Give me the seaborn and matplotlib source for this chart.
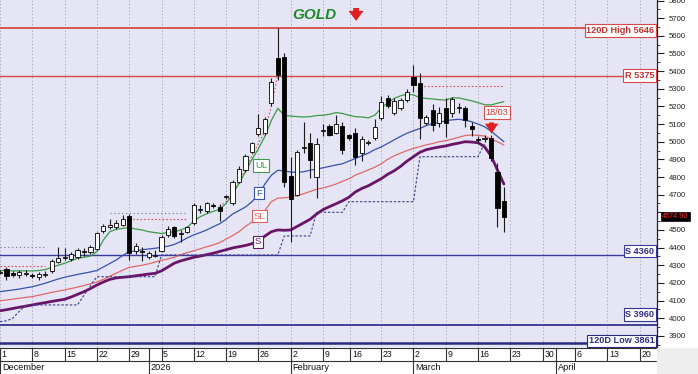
import numpy as np
import pandas as pd
import matplotlib
matplotlib.use("Agg")
import matplotlib.pyplot as plt
import seaborn as sns
from matplotlib.ticker import MultipleLocator, FuncFormatter
from matplotlib.transforms import blended_transform_factory
from matplotlib.patches import Rectangle

sns.set_theme(style="white")
plt.rcParams["font.family"] = ["Liberation Sans", "DejaVu Sans"]

# ---------------- data (trading-day index 0 = 1 Dec 2025) ----------------
opens = [4258, 4281, 4252, 4246, 4252, 4242, 4232, 4247, 4270, 4320,
         4345, 4338, 4345, 4377, 4375, 4390, 4492, 4515, 4517, 4530,
         4578, 4382, 4378, 4346, 4355, 4382, 4470, 4515, 4478, 4490,
         4540, 4615, 4605, 4640, 4630, 4685, 4650, 4773, 4840, 4943,
         5045, 5050, 5220, 5472, 5482, 4805, 4698, 4965, 4994, 4802,
         5062, 5089, 5051, 5089, 5038, 5051, 4934, 4992, 5019, 5133,
         5250, 5164, 5190, 5236, 5365, 5335, 5108, 5180, 5104, 5189,
         5161, 5193, 5189, 5088, 5012, 5018, 5019, 4830, 4666]
highs = [4272, 4292, 4270, 4275, 4272, 4258, 4262, 4268, 4335, 4402,
         4395, 4375, 4400, 4398, 4415, 4488, 4535, 4562, 4555, 4585,
         4592, 4425, 4402, 4378, 4385, 4470, 4520, 4525, 4500, 4525,
         4650, 4640, 4660, 4655, 4645, 4700, 4785, 4860, 4930, 5000,
         5155, 5140, 5360, 5646, 5504, 4915, 4955, 5110, 5051, 5019,
         5100, 5100, 5150, 5110, 5045, 5075, 5035, 5010, 5130, 5260,
         5265, 5245, 5250, 5300, 5435, 5390, 5150, 5215, 5195, 5250,
         5255, 5220, 5200, 5110, 5035, 5040, 5040, 4877, 4745]
lows = [4248, 4218, 4232, 4228, 4238, 4228, 4215, 4235, 4255, 4312,
        4330, 4325, 4335, 4355, 4362, 4385, 4485, 4505, 4508, 4522,
        4330, 4365, 4322, 4336, 4345, 4375, 4460, 4455, 4430, 4480,
        4530, 4598, 4595, 4625, 4548, 4678, 4640, 4765, 4830, 4935,
        5035, 5040, 5200, 5350, 4745, 4433, 4690, 4935, 4793, 4679,
        5030, 5030, 5045, 4930, 5010, 4870, 4890, 4980, 5010, 5125,
        5190, 5150, 5180, 5225, 5283, 5015, 5095, 5060, 5085, 5028,
        5140, 5160, 5085, 5035, 4990, 5000, 4890, 4518, 4490]
closes = [4262, 4240, 4249, 4260, 4253, 4240, 4250, 4249, 4325, 4343,
          4348, 4362, 4388, 4374, 4402, 4482, 4522, 4526, 4542, 4564,
          4372, 4410, 4376, 4370, 4360, 4460, 4505, 4468, 4482, 4515,
          4640, 4620, 4650, 4637, 4605, 4690, 4772, 4848, 4920, 4990,
          5080, 5130, 5340, 5378, 4773, 4675, 4943, 4970, 4896, 4987,
          5068, 5040, 5100, 4953, 5022, 4915, 5013, 4996, 5085, 5227,
          5200, 5232, 5236, 5280, 5321, 5133, 5138, 5095, 5165, 5104,
          5243, 5197, 5123, 5072, 5008, 5021, 4906, 4623, 4575]

ul_line = [4270, 4270, 4268, 4268, 4268, 4268, 4270, 4275, 4288, 4300,
           4311, 4325, 4339, 4345, 4352, 4377, 4443, 4490, 4504, 4509,
           4513, 4505, 4500, 4490, 4485, 4480, 4485, 4490, 4500, 4515,
           4550, 4575, 4592, 4605, 4617, 4650, 4700, 4764, 4830, 4900,
           4960, 5030, 5120, 5189, 5150, 5145, 5142, 5140, 5142, 5148,
           5150, 5155, 5165, 5160, 5150, 5142, 5140, 5135, 5150, 5190,
           5220, 5245, 5260, 5270, 5265, 5250, 5245, 5242, 5238, 5236,
           5249, 5248, 5240, 5232, 5221, 5210, 5208, 5218, 5227]
f_line = [4150, 4155, 4160, 4165, 4172, 4178, 4188, 4198, 4210, 4222,
          4232, 4240, 4248, 4255, 4262, 4270, 4290, 4310, 4330, 4355,
          4377, 4382, 4388, 4392, 4396, 4402, 4408, 4418, 4435, 4455,
          4472, 4485, 4500, 4518, 4535, 4560, 4590, 4610, 4630, 4660,
          4700, 4760, 4810, 4838, 4835, 4828, 4826, 4830, 4838, 4845,
          4852, 4860, 4868, 4875, 4890, 4905, 4920, 4935, 4955, 4970,
          4990, 5010, 5030, 5048, 5062, 5075, 5092, 5102, 5110, 5119,
          5124, 5127, 5122, 5113, 5100, 5085, 5060, 5030, 5000]
sl_line = [4099, 4103, 4108, 4113, 4118, 4122, 4130, 4138, 4146, 4153,
           4160, 4168, 4176, 4185, 4195, 4205, 4220, 4238, 4255, 4272,
           4288, 4294, 4300, 4308, 4318, 4328, 4336, 4345, 4360, 4372,
           4382, 4393, 4405, 4415, 4428, 4448, 4468, 4490, 4520, 4545,
           4565, 4610, 4660, 4680, 4682, 4686, 4695, 4705, 4718, 4730,
           4738, 4748, 4760, 4775, 4790, 4810, 4825, 4840, 4855, 4875,
           4900, 4920, 4935, 4950, 4962, 4972, 4982, 4990, 5000, 5006,
           5015, 5025, 5035, 5038, 5036, 5032, 5015, 5000, 4981]
s_line = [4042, 4048, 4055, 4062, 4068, 4075, 4082, 4088, 4095, 4101,
          4107, 4120, 4135, 4150, 4168, 4188, 4205, 4220, 4228, 4232,
          4235, 4240, 4245, 4250, 4254, 4268, 4290, 4312, 4325, 4335,
          4345, 4352, 4360, 4368, 4378, 4388, 4398, 4405, 4412, 4422,
          4440, 4465, 4490, 4500, 4498, 4500, 4520, 4540, 4560, 4590,
          4615, 4632, 4648, 4665, 4685, 4715, 4735, 4750, 4770, 4790,
          4815, 4835, 4860, 4890, 4915, 4940, 4955, 4963, 4970, 4976,
          4985, 4992, 5000, 4998, 4994, 4972, 4920, 4840, 4760]
stop_line = [3980, 3985, 4000, 4040, 4075, 4075, 4075, 4075, 4075, 4075,
             4075, 4075, 4075, 4130, 4185, 4235, 4235, 4235, 4235, 4235,
             4235, 4235, 4235, 4235, 4235, 4358, 4358, 4358, 4358, 4358,
             4358, 4358, 4358, 4358, 4358, 4358, 4358, 4358, 4358, 4358,
             4358, 4358, 4358, 4358, 4466, 4466, 4466, 4466, 4466, 4600,
             4600, 4600, 4600, 4600, 4660, 4660, 4660, 4660, 4660, 4660,
             4660, 4660, 4660, 4660, 4660, 4915, 4915, 4915, 4915, 4915,
             4915, 4915, 4915, 4915, 4915, 4990]

level_values = [5646, 5375, 4360, 3960, 3861]
level_labels = ["120D High 5646", "R 5375", "S 4360", "S 3960", "120D Low 3861"]

red_dot_levels = [4297, 4560, 5316]
red_dot_start = [0, 20, 65]
red_dot_end = [7, 29, 78]
grey_dot_levels = [4405, 4598]
grey_dot_start = [0, 17]
grey_dot_end = [7, 29]
trail_idx = [34, 35, 36, 37, 38, 39, 40, 41, 42, 43]
trail_val = [4632, 4660, 4700, 4775, 4845, 4920, 4990, 5060, 5200, 5378]

last_price = 4574.90
week_pos = [0, 5, 10, 15, 20, 25, 30, 35, 40, 45, 50, 54.25, 59, 64, 69, 74, 79, 84, 89, 94, 99]
week_lab = ["1", "8", "15", "22", "29", "5", "12", "19", "26", "2", "9", "16", "23",
            "2", "9", "16", "23", "30", "6", "13", "20"]
month_pos = [0, 23, 45, 64, 86]
month_lab = ["December", "2026", "February", "March", "April"]

# ---------------- figure ----------------
W, H = 698, 374
fig = plt.figure(figsize=(W / 100, H / 100), dpi=100)
fig.patch.set_facecolor("white")
ax = fig.add_axes([0, 26 / H, 657 / W, 348 / H])
ax.set_facecolor("#E5E5F5")
XMAX = 101.7
ax.set_xlim(0, XMAX)
ax.set_ylim(3831, 5803)

# week grid
for p in week_pos:
    ax.axvline(p, color="#9C9CB4", lw=0.6, ls=(0, (1.5, 2.5)), zorder=1)

# horizontal levels
lv_colors = ["#D84848", "#D84848", "#3C3C9C", "#34348C", "#2A2A80"]
lv_widths = [1.3, 1.0, 1.0, 1.3, 1.8]
for v, col, lw in zip(level_values, lv_colors, lv_widths):
    ax.axhline(v, color=col, lw=lw, zorder=2)

# dotted reference segments
for v, a, b in zip(red_dot_levels, red_dot_start, red_dot_end):
    ax.hlines(v, a, b, color="#D85050", lw=0.8, ls=(0, (1.5, 1.8)), zorder=2)
for v, a, b in zip(grey_dot_levels, grey_dot_start, grey_dot_end):
    ax.hlines(v, a, b, color="#707088", lw=0.8, ls=(0, (1, 2.5)), zorder=2)
ax.plot(trail_idx, trail_val, color="#D85050", lw=0.8, ls=(0, (1.5, 1.8)), zorder=2)

# indicator lines via seaborn
n = len(closes)
idx = np.arange(n)
df = pd.DataFrame({"i": idx, "UL": ul_line, "F": f_line, "SL": sl_line, "S": s_line})
sns.lineplot(data=df, x="i", y="UL", ax=ax, color="#3C9A48", lw=0.9, zorder=3)
sns.lineplot(data=df, x="i", y="F", ax=ax, color="#3850B0", lw=0.9, zorder=3)
sns.lineplot(data=df, x="i", y="SL", ax=ax, color="#E06868", lw=0.9, zorder=3)
sns.lineplot(data=df, x="i", y="S", ax=ax, color="#6A1468", lw=2.0, zorder=3)
stop_df = pd.DataFrame({"i": np.arange(len(stop_line)), "v": stop_line})
sns.lineplot(data=stop_df, x="i", y="v", ax=ax, color="#404088", lw=0.8,
             linestyle=(0, (2.2, 1.6)), zorder=3)

# candles
o = np.array(opens, float); c = np.array(closes, float)
hi = np.array(highs, float); lo = np.array(lows, float)
up = c >= o
ax.vlines(idx, lo, hi, color="#1A1A1A", lw=0.8, zorder=4)
body_lo = np.minimum(o, c)
body_h = np.abs(c - o)
mid = (o + c) / 2
small = body_h < 6
body_lo = np.where(small, mid - 3, body_lo)
body_h = np.where(small, 6, body_h)
ax.bar(idx, body_h, bottom=body_lo, width=0.64,
       color=np.where(up, "white", "black"), edgecolor="black", linewidth=0.6, zorder=5)

# level labels on the right
tr = blended_transform_factory(ax.transAxes, ax.transData)
lab_text_col = ["#C83030", "#C83030", "#2E2E88", "#2E2E88", "#2E2E88"]
lab_offsets = [-15, 0, 20, 60, 10]
for v, t, col, ec, off in zip(level_values, level_labels, lab_text_col, lv_colors, lab_offsets):
    ax.text(0.996, v + off, t, transform=tr, ha="right", va="center",
            fontsize=6.6, fontweight="bold", color=col, zorder=8,
            bbox=dict(boxstyle="square,pad=0.18", fc="white", ec=ec, lw=0.8))

# indicator tags
tag_specs = [("UL", 40.4, 4866, "#3C9A48"), ("F", 40.1, 4708, "#3850B0"),
             ("SL", 40.1, 4578, "#E06060"), ("S", 39.9, 4432, "#6A1468")]
for t, x, y, col in tag_specs:
    ax.text(x, y, t, ha="center", va="center", fontsize=6.8, color=col, zorder=8,
            bbox=dict(boxstyle="square,pad=0.18", fc="white", ec=col, lw=0.8))

# title
ax.text(0.479, 0.958, "GOLD", transform=ax.transAxes, ha="center", va="center",
        fontsize=11, fontweight="bold", fontstyle="italic", color="#1E8A2C", zorder=8)
ax.annotate("", xy=(0.542, 0.932), xytext=(0.542, 0.985), xycoords="axes fraction",
            arrowprops=dict(arrowstyle="simple,head_width=0.9,head_length=0.6,tail_width=0.35",
                            color="#E02020", lw=0))

# 18/03 signal
ax.text(76.9, 5165, "18/03", ha="center", va="center", fontsize=6.6, color="#D03030",
        zorder=8, bbox=dict(boxstyle="square,pad=0.18", fc="white", ec="#D85050", lw=0.8))
ax.annotate("", xy=(76.1, 5030), xytext=(76.1, 5125),
            arrowprops=dict(arrowstyle="simple,head_width=0.8,head_length=0.6,tail_width=0.3",
                            color="#E02020", lw=0), zorder=8)

# right axis (the 4600 label sits under the last-price tag, as in the reference)
ax.yaxis.tick_right()
ax.yaxis.set_major_locator(MultipleLocator(100))
ax.yaxis.set_minor_locator(MultipleLocator(50))
ax.yaxis.set_major_formatter(FuncFormatter(
    lambda v, p: "" if abs(v - last_price) < 60 else f"{v:.0f}"))
ax.tick_params(axis="y", which="major", length=5, width=0.8, labelsize=5.6,
               pad=3.5, colors="#222222", right=True, left=False)
ax.tick_params(axis="y", which="minor", length=2.5, width=0.6, right=True, left=False,
               colors="#222222")
ax.set_xticks([])
ax.set_xlabel(""); ax.set_ylabel("")
for s in ["left", "top", "bottom"]:
    ax.spines[s].set_visible(False)
ax.spines["right"].set_color("#222222")
ax.spines["right"].set_linewidth(0.9)

ax.text(1.008, last_price, f"{last_price:.2f}", transform=tr, ha="left", va="center",
        fontsize=5.2, color="#FF3030", zorder=9, clip_on=False,
        bbox=dict(boxstyle="square,pad=0.15", fc="black", ec="black", lw=0.5))

# date table
axd = fig.add_axes([0, 0, 657 / W, 26 / H])
axd.set_xlim(0, XMAX)
axd.set_ylim(0, 26)
axd.axis("off")
axd.hlines([25.6, 13], 0, XMAX, color="#333333", lw=0.8)
for p, t in zip(week_pos, week_lab):
    axd.vlines(p, 13, 25.6, color="#333333", lw=0.8)
    axd.text(p + 0.25, 19.2, t, ha="left", va="center", fontsize=6.3, color="#111111")
for p, t in zip(month_pos, month_lab):
    axd.vlines(p, 0, 25.6, color="#333333", lw=0.8)
    axd.text(p + 0.3, 6.3, t, ha="left", va="center", fontsize=6.6, color="#111111")
fig.patches.append(Rectangle((657 / W, 0), 41 / W, 26 / H, transform=fig.transFigure,
                             color="#EEEEEE", zorder=0))

fig.savefig("out.png", dpi=100)
